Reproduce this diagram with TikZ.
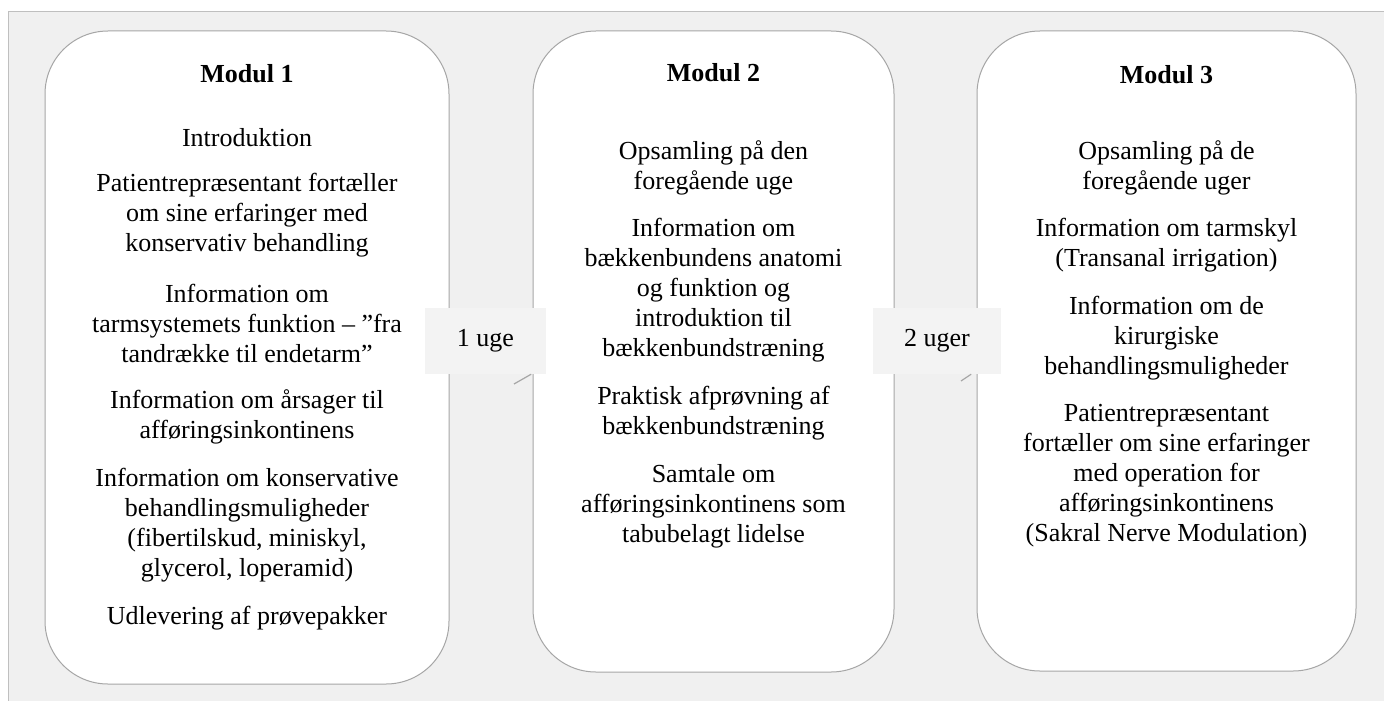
\documentclass[tikz,border=0pt]{standalone}
\usepackage{fontspec}
\setmainfont{Liberation Serif}
\usepackage{xcolor}
\usetikzlibrary{positioning}

\definecolor{rammegraa}{HTML}{BFBFBF}
\definecolor{baggrund}{HTML}{F0F0F0}
\definecolor{kantgraa}{HTML}{A6A6A6}
\definecolor{pausegraa}{HTML}{F3F3F3}

\begin{document}
\begin{tikzpicture}[
    x=1pt, y=-1pt,
    modul/.style={rectangle, draw=kantgraa, fill=white, line width=1pt, rounded corners=63pt, inner sep=0pt},
    punkt/.style={align=center, font=\fontsize{26}{30}\selectfont, inner sep=0pt},
    titel/.style={punkt, font=\fontsize{26}{30}\selectfont\bfseries},
    pause/.style={rectangle, fill=pausegraa, minimum width=121pt, minimum height=66pt, inner sep=0pt, font=\fontsize{26}{30}\selectfont},
    tail/.style={draw=kantgraa, line width=1.2pt}
]

\useasboundingbox (0,0) rectangle (1384,701);
\fill[white] (0,0) rectangle (1384,701);
\draw[rammegraa, fill=baggrund, line width=1pt] (8,12) rectangle (1392,709);

% Modul 1
\node[modul, minimum width=404pt, minimum height=653pt] (modul1) at (247,357.5) {};
\node[titel] (m1titel) at (247,74) {Modul 1};
\node[punkt] (m1intro) at (247,138) {Introduktion};
\node[punkt] (m1patient) at (247,215) {Patientrepræsentant fortæller\\om sine erfaringer med\\konservativ behandling};
\node[punkt] (m1tarm) at (247,323) {Information om\\tarmsystemets funktion – ”fra\\tandrække til endetarm”};
\node[punkt] (m1aarsag) at (247,417) {Information om årsager til\\afføringsinkontinens};
\node[punkt] (m1konserv) at (247,525) {Information om konservative\\behandlingsmuligheder\\(fibertilskud, miniskyl,\\glycerol, loperamid)};
\node[punkt] (m1pakker) at (247,618) {Udlevering af prøvepakker};

% Modul 2
\node[modul, minimum width=361pt, minimum height=641pt] (modul2) at (713.5,351.5) {};
\node[titel] (m2titel) at (713.5,73) {Modul 2};
\node[punkt] (m2opsaml) at (713.5,168) {Opsamling på den\\foregående uge};
\node[punkt] (m2anatomi) at (713.5,290) {Information om\\bækkenbundens anatomi\\og funktion og\\introduktion til\\bækkenbundstræning};
\node[punkt] (m2praktisk) at (713.5,413) {Praktisk afprøvning af\\bækkenbundstræning};
\node[punkt] (m2samtale) at (713.5,506) {Samtale om\\afføringsinkontinens som\\tabubelagt lidelse};

% Modul 3
\node[modul, minimum width=379pt, minimum height=640pt] (modul3) at (1166.5,351) {};
\node[titel] (m3titel) at (1166.5,75) {Modul 3};
\node[punkt] (m3opsaml) at (1166.5,168) {Opsamling på de\\foregående uger};
\node[punkt] (m3skyl) at (1166.5,245) {Information om tarmskyl\\(Transanal irrigation)};
\node[punkt] (m3kirurgi) at (1166.5,338) {Information om de\\kirurgiske\\behandlingsmuligheder};
\node[punkt] (m3operation) at (1166.5,476) {Patientrepræsentant\\fortæller om sine erfaringer\\med operation for\\afføringsinkontinens\\(Sakral Nerve Modulation)};

% Pauser mellem modulerne
\node[pause] (uge1) at (485.5,341) {1 uge};
\node[pause, minimum width=128pt] (uge2) at (937,341) {2 uger};
\coordinate (uge1tip) at (514,384);
\coordinate (uge2tip) at (961,381);
\draw[tail] ([xshift=-15pt]uge1.south east) -- (uge1tip);
\draw[tail] ([xshift=-30pt]uge2.south east) -- (uge2tip);

\end{tikzpicture}
\end{document}
